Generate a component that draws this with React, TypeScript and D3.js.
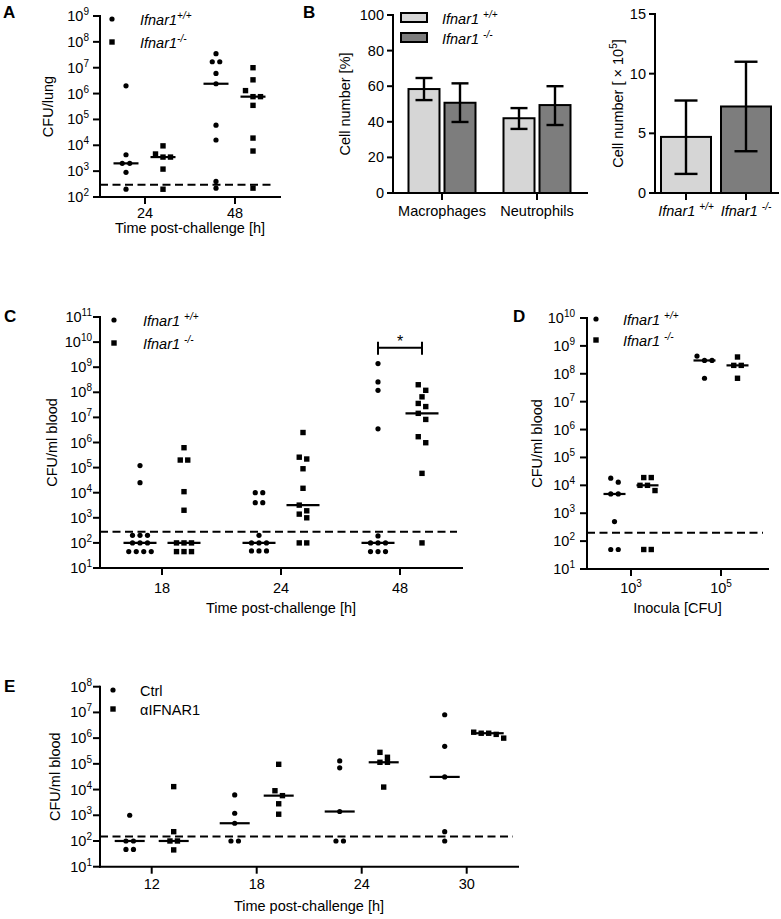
import React from "react";
import * as d3 from "d3";

// ---------- DATA ----------
// Panel A: CFU/lung
const aTimes = ["24", "48"];
const aWT = [
  [2e6, 4.3e3, 2e3, 2e3, 9e2, 2e2],
  [3.5e7, 1.7e7, 1.7e7, 6e6, 2.4e6, 6e4, 1.6e4, 4e2, 2.2e2],
];
const aKO = [
  [9.5e3, 4.6e3, 3.5e3, 3.5e3, 1.2e3, 2e2],
  [1e7, 3.4e6, 1.3e6, 7.6e5, 7.6e5, 3.5e5, 1.9e4, 6e3, 2.2e2],
];
const aLimit = 300;

// Panel B: cell composition
const bCells = ["Macrophages", "Neutrophils"];
const bWTMean = [58.4, 42];
const bWTLow = [52.2, 36];
const bWTHigh = [64.6, 47.7];
const bKOMean = [50.7, 49.4];
const bKOLow = [39.9, 38.2];
const bKOHigh = [61.6, 60];
const bGenotypes = ["+/+", "-/-"];
const bTotalMean = [4.7, 7.25];
const bTotalLow = [1.6, 3.5];
const bTotalHigh = [7.75, 11];

// Panel C: CFU/ml blood over time
const cTimes = ["18", "24", "48"];
const cWT = [
  [1.2e5, 2.5e4, 200, 200, 200, 100, 100, 100, 45, 45, 45, 45],
  [1e4, 1e4, 4e3, 4e3, 200, 100, 100, 100, 48, 48, 48],
  [1.4e9, 2.6e8, 1.2e8, 3.5e6, 190, 100, 100, 100, 45, 45, 45],
];
const cKO = [
  [6.2e5, 2e5, 2e5, 1.1e4, 2e3, 100, 100, 100, 45, 45, 45],
  [2.5e6, 2.6e5, 2.2e5, 9e4, 1.5e4, 3.2e3, 1.9e3, 1.4e3, 1e3, 100, 100],
  [2e8, 1.2e8, 6.6e7, 3.6e7, 2.7e7, 1.45e7, 8.3e6, 1.7e6, 9.8e5, 5.9e4, 100],
];
const cLimit = 280;
const cSigValue = 6e9;

// Panel D: inocula
const dInocula = ["3", "5"];
const dWT = [
  [1.8e4, 1.3e4, 4.9e3, 4.9e3, 500, 50, 50],
  [4.3e8, 3e8, 3e8, 6.9e7],
];
const dKO = [
  [1.9e4, 1.9e4, 1e4, 1e4, 6.5e3, 50, 50],
  [4e8, 2e8, 2e8, 6.9e7],
];
const dLimit = 200;

// Panel E: Ctrl vs anti-IFNAR1
const eTimes = ["12", "18", "24", "30"];
const eCtrl = [
  [1e3, 100, 100, 47, 47],
  [6.2e3, 1.2e3, 490, 100, 100],
  [1.3e5, 7e4, 1.4e3, 100, 100],
  [8.1e6, 4.8e5, 3.1e4, 230, 100],
];
const eAnti = [
  [1.3e4, 230, 100, 100, 45],
  [9.6e4, 9e3, 5.8e3, 2.8e3, 1.1e3],
  [2.8e5, 1.8e5, 1.15e5, 1.15e5, 1.25e4],
  [1.7e6, 1.55e6, 1.55e6, 1.4e6, 1e6],
];
const eLimit = 150;

// ---------- STYLE ----------
const FONT = "'Liberation Sans', Arial, Helvetica, sans-serif";
const LIGHT = "#d6d6d6";
const DARK = "#7d7d7d";
const FS = 14.5;
const SUP = 10;

function swarm(values: number[], y: (v: number) => number, cx: number, spacing = 7.5, thr = 6.5) {
  const pts = values.map((v) => ({ v, y: y(v) })).sort((a, b) => a.y - b.y || b.v - a.v);
  const out: { x: number; y: number }[] = [];
  let i = 0;
  while (i < pts.length) {
    const start = pts[i].y;
    const row: { v: number; y: number }[] = [];
    while (i < pts.length && pts[i].y - start <= thr) {
      row.push(pts[i]);
      i++;
    }
    row.forEach((p, k) => out.push({ x: cx + (k - (row.length - 1) / 2) * spacing, y: p.y }));
  }
  return out;
}

function Marker({ shape, x, y }: { shape: string; x: number; y: number }) {
  if (shape === "circle") return <circle cx={x} cy={y} r={2.6} fill="#000" />;
  return <rect x={x - 2.7} y={y - 2.7} width={5.4} height={5.4} fill="#000" />;
}

function Geno({ sup, space }: { sup: string; space?: boolean }) {
  return (
    <>
      {"Ifnar1" + (space ? " " : "")}
      <tspan dy={-6} fontSize={SUP}>
        {sup}
      </tspan>
    </>
  );
}

type LogCfg = {
  cats: string[];
  tickRange: [number, number];
  x0: number;
  x1: number;
  expMin: number;
  expMax: number;
  yBot: number;
  yTop: number;
  series: { values: number[][]; shape: string; offset: number }[];
  limit: number;
  medHalf: number;
  labelGap: number;
  tickLabelY: number;
  tickLabel: (c: string) => React.ReactNode;
  xTitle: string;
  xTitleY: number;
  yTitle: string;
  yTitleX: number;
  legend: { shape: string; x: number; y: number; textX: number; label: React.ReactNode; italic: boolean }[];
};

function LogPanel(cfg: LogCfg) {
  const y = d3.scaleLog().domain([10 ** cfg.expMin, 10 ** cfg.expMax]).range([cfg.yBot, cfg.yTop]);
  const x = d3.scalePoint().domain(cfg.cats).range(cfg.tickRange);
  const exps = d3.range(cfg.expMin, cfg.expMax + 1);
  return (
    <g>
      {/* axes */}
      <line x1={cfg.x0} x2={cfg.x0} y1={cfg.yTop} y2={cfg.yBot} stroke="#000" strokeWidth={2} strokeLinecap="square" />
      <line x1={cfg.x0} x2={cfg.x1} y1={cfg.yBot} y2={cfg.yBot} stroke="#000" strokeWidth={2} strokeLinecap="square" />
      {exps.map((e) => (
        <g key={e}>
          <line x1={cfg.x0 - 7} x2={cfg.x0} y1={y(10 ** e)} y2={y(10 ** e)} stroke="#000" strokeWidth={2} />
          <text x={cfg.x0 - cfg.labelGap} y={y(10 ** e) + 5} textAnchor="end" fontSize={FS}>
            10
            <tspan dy={-6} fontSize={SUP}>
              {e}
            </tspan>
          </text>
        </g>
      ))}
      {cfg.cats.map((c) => (
        <g key={c}>
          <line x1={x(c)} x2={x(c)} y1={cfg.yBot} y2={cfg.yBot + 7} stroke="#000" strokeWidth={2} />
          <text x={x(c)} y={cfg.tickLabelY} textAnchor="middle" fontSize={FS}>
            {cfg.tickLabel(c)}
          </text>
        </g>
      ))}
      {/* detection limit */}
      <line
        x1={cfg.x0}
        x2={cfg.x1 - 5}
        y1={y(cfg.limit)}
        y2={y(cfg.limit)}
        stroke="#000"
        strokeWidth={2}
        strokeDasharray="8 4.5"
      />
      {/* points and medians */}
      {cfg.series.map((s, si) =>
        cfg.cats.map((c, ci) => {
          const cx = (x(c) as number) + s.offset;
          const vals = s.values[ci];
          const med = d3.median(vals) as number;
          return (
            <g key={si + "-" + ci}>
              {swarm(vals, y, cx).map((p, k) => (
                <Marker key={k} shape={s.shape} x={p.x} y={p.y} />
              ))}
              <line x1={cx - cfg.medHalf} x2={cx + cfg.medHalf} y1={y(med)} y2={y(med)} stroke="#000" strokeWidth={2.2} />
            </g>
          );
        })
      )}
      {/* titles */}
      <text x={(cfg.x0 + cfg.x1) / 2} y={cfg.xTitleY} textAnchor="middle" fontSize={FS}>
        {cfg.xTitle}
      </text>
      <text
        transform={`translate(${cfg.yTitleX},${(cfg.yTop + cfg.yBot) / 2}) rotate(-90)`}
        textAnchor="middle"
        fontSize={FS}
      >
        {cfg.yTitle}
      </text>
      {/* legend */}
      {cfg.legend.map((l, i) => (
        <g key={i}>
          <Marker shape={l.shape} x={l.x} y={l.y} />
          <text x={l.textX} y={l.y + 6} fontSize={FS} fontStyle={l.italic ? "italic" : "normal"}>
            {l.label}
          </text>
        </g>
      ))}
    </g>
  );
}

function ErrBar({ x, lo, hi, cap }: { x: number; lo: number; hi: number; cap: number }) {
  return (
    <g stroke="#000" strokeWidth={2.4}>
      <line x1={x} x2={x} y1={lo} y2={hi} />
      <line x1={x - cap / 2} x2={x + cap / 2} y1={lo} y2={lo} />
      <line x1={x - cap / 2} x2={x + cap / 2} y1={hi} y2={hi} />
    </g>
  );
}

function PanelB() {
  // left: percentages
  const x0 = 393,
    x1 = 587;
  const y = d3.scaleLinear().domain([0, 100]).range([193, 15]);
  const x = d3.scalePoint().domain(bCells).range([442, 537]);
  const bw = 31,
    gap = 5;
  // right: totals
  const rx0 = 655,
    rx1 = 778;
  const ry = d3.scaleLinear().domain([0, 15]).range([193, 14]);
  const rx = d3.scalePoint().domain(bGenotypes).range([686, 746]);
  const rbw = 50;
  return (
    <g>
      <line x1={x0} x2={x0} y1={y(100)} y2={y(0)} stroke="#000" strokeWidth={2} strokeLinecap="square" />
      {y.ticks(5).map((t) => (
        <g key={t}>
          <line x1={x0 - 6} x2={x0} y1={y(t)} y2={y(t)} stroke="#000" strokeWidth={2} />
          <text x={x0 - 9} y={y(t) + 5} textAnchor="end" fontSize={FS}>
            {t}
          </text>
        </g>
      ))}
      {bCells.map((c, i) => {
        const cx = x(c) as number;
        const lx = cx - gap / 2 - bw;
        const dx = cx + gap / 2;
        return (
          <g key={c}>
            <rect x={lx} y={y(bWTMean[i])} width={bw} height={y(0) - y(bWTMean[i])} fill={LIGHT} stroke="#000" strokeWidth={2} />
            <rect x={dx} y={y(bKOMean[i])} width={bw} height={y(0) - y(bKOMean[i])} fill={DARK} stroke="#000" strokeWidth={2} />
            <ErrBar x={lx + bw / 2} lo={y(bWTLow[i])} hi={y(bWTHigh[i])} cap={17} />
            <ErrBar x={dx + bw / 2} lo={y(bKOLow[i])} hi={y(bKOHigh[i])} cap={17} />
            <line x1={cx} x2={cx} y1={y(0)} y2={y(0) + 7} stroke="#000" strokeWidth={2} />
            <text x={cx} y={216} textAnchor="middle" fontSize={FS}>
              {c}
            </text>
          </g>
        );
      })}
      <line x1={x0} x2={x1} y1={y(0)} y2={y(0)} stroke="#000" strokeWidth={2} strokeLinecap="square" />
      <text transform={`translate(350,${(y(0) + y(100)) / 2}) rotate(-90)`} textAnchor="middle" fontSize={FS}>
        Cell number [%]
      </text>
      {/* legend */}
      <rect x={401} y={13} width={26} height={9} fill={LIGHT} stroke="#000" strokeWidth={2} />
      <rect x={401} y={33} width={26} height={9} fill={DARK} stroke="#000" strokeWidth={2} />
      <text x={442} y={24} fontSize={FS} fontStyle="italic">
        <Geno sup="+/+" space />
      </text>
      <text x={442} y={44} fontSize={FS} fontStyle="italic">
        <Geno sup="-/-" space />
      </text>

      {/* right panel */}
      <line x1={rx0} x2={rx0} y1={ry(15)} y2={ry(0)} stroke="#000" strokeWidth={2} strokeLinecap="square" />
      {[0, 5, 10, 15].map((t) => (
        <g key={t}>
          <line x1={rx0 - 6} x2={rx0} y1={ry(t)} y2={ry(t)} stroke="#000" strokeWidth={2} />
          <text x={rx0 - 9} y={ry(t) + 5} textAnchor="end" fontSize={FS}>
            {t}
          </text>
        </g>
      ))}
      {bGenotypes.map((g, i) => {
        const cx = rx(g) as number;
        return (
          <g key={g}>
            <rect
              x={cx - rbw / 2}
              y={ry(bTotalMean[i])}
              width={rbw}
              height={ry(0) - ry(bTotalMean[i])}
              fill={i === 0 ? LIGHT : DARK}
              stroke="#000"
              strokeWidth={2}
            />
            <ErrBar x={cx} lo={ry(bTotalLow[i])} hi={ry(bTotalHigh[i])} cap={23} />
            <line x1={cx} x2={cx} y1={ry(0)} y2={ry(0) + 7} stroke="#000" strokeWidth={2} />
            <text x={cx} y={216} textAnchor="middle" fontSize={FS} fontStyle="italic">
              <Geno sup={g} space />
            </text>
          </g>
        );
      })}
      <line x1={rx0} x2={rx1} y1={ry(0)} y2={ry(0)} stroke="#000" strokeWidth={2} strokeLinecap="square" />
      <text transform={`translate(623,${(ry(0) + ry(15)) / 2}) rotate(-90)`} textAnchor="middle" fontSize={FS}>
        {"Cell number [ × 10"}
        <tspan dy={-6} fontSize={SUP}>
          5
        </tspan>
        <tspan dy={6}>]</tspan>
      </text>
    </g>
  );
}

export default function App() {
  const wtLegend = (x: number, y: number, tx: number, gap: number, space: boolean) => [
    { shape: "circle", x, y, textX: tx, label: <Geno sup="+/+" space={space} />, italic: true },
    { shape: "square", x, y: y + gap, textX: tx, label: <Geno sup="-/-" space={space} />, italic: true },
  ];
  const cYScale = d3.scaleLog().domain([10, 1e11]).range([568, 317]);
  const cX = d3.scalePoint().domain(cTimes).range([162, 400]);
  const sigY = cYScale(cSigValue);
  const sx1 = (cX("48") as number) - 22;
  const sx2 = (cX("48") as number) + 22;
  return (
    <svg
      width={781}
      height={919}
      style={{ position: "absolute", left: 0, top: 0, display: "block", background: "#fff" }}
      fontFamily={FONT}
    >
      <rect width={781} height={919} fill="#fff" />
      {/* panel letters */}
      <g fontSize={17} fontWeight="bold">
        <text x={3} y={18}>A</text>
        <text x={303} y={18}>B</text>
        <text x={4} y={322}>C</text>
        <text x={513} y={322}>D</text>
        <text x={4} y={692}>E</text>
      </g>

      <LogPanel
        cats={aTimes}
        tickRange={[145, 235]}
        x0={100}
        x1={280}
        expMin={2}
        expMax={9}
        yBot={197}
        yTop={16}
        series={[
          { values: aWT, shape: "circle", offset: -19 },
          { values: aKO, shape: "square", offset: 18 },
        ]}
        limit={aLimit}
        medHalf={12.5}
        labelGap={11}
        tickLabelY={218}
        tickLabel={(c) => c}
        xTitle="Time post-challenge [h]"
        xTitleY={233}
        yTitle="CFU/lung"
        yTitleX={53}
        legend={wtLegend(112, 19, 140, 23, false)}
      />

      <PanelB />

      <LogPanel
        cats={cTimes}
        tickRange={[162, 400]}
        x0={100}
        x1={462}
        expMin={1}
        expMax={11}
        yBot={568}
        yTop={317}
        series={[
          { values: cWT, shape: "circle", offset: -22 },
          { values: cKO, shape: "square", offset: 22 },
        ]}
        limit={cLimit}
        medHalf={16.5}
        labelGap={8}
        tickLabelY={593}
        tickLabel={(c) => c}
        xTitle="Time post-challenge [h]"
        xTitleY={613}
        yTitle="CFU/ml blood"
        yTitleX={57}
        legend={wtLegend(114, 320, 143, 23, true)}
      />
      {/* significance bracket */}
      <g stroke="#000" strokeWidth={2}>
        <line x1={sx1} x2={sx2} y1={sigY} y2={sigY} />
        <line x1={sx1} x2={sx1} y1={sigY - 6} y2={sigY + 7} />
        <line x1={sx2} x2={sx2} y1={sigY - 6} y2={sigY + 7} />
      </g>
      <text x={(sx1 + sx2) / 2} y={sigY - 1} textAnchor="middle" fontSize={16}>
        *
      </text>

      <LogPanel
        cats={dInocula}
        tickRange={[631, 721]}
        x0={587}
        x1={768}
        expMin={1}
        expMax={10}
        yBot={569}
        yTop={318}
        series={[
          { values: dWT, shape: "circle", offset: -16.5 },
          { values: dKO, shape: "square", offset: 16.5 },
        ]}
        limit={dLimit}
        medHalf={11}
        labelGap={12}
        tickLabelY={593}
        tickLabel={(c) => (
          <>
            10
            <tspan dy={-6} fontSize={SUP}>
              {c}
            </tspan>
          </>
        )}
        xTitle="Inocula [CFU]"
        xTitleY={613}
        yTitle="CFU/ml blood"
        yTitleX={542}
        legend={wtLegend(596, 319, 623, 21, true)}
      />

      <LogPanel
        cats={eTimes}
        tickRange={[151.7, 466.7]}
        x0={100}
        x1={518}
        expMin={1}
        expMax={8}
        yBot={866.7}
        yTop={686.7}
        series={[
          { values: eCtrl, shape: "circle", offset: -22 },
          { values: eAnti, shape: "square", offset: 22 },
        ]}
        limit={eLimit}
        medHalf={15}
        labelGap={8}
        tickLabelY={889}
        tickLabel={(c) => c}
        xTitle="Time post-challenge [h]"
        xTitleY={911}
        yTitle="CFU/ml blood"
        yTitleX={60}
        legend={[
          { shape: "circle", x: 113, y: 690, textX: 140, label: "Ctrl", italic: false },
          { shape: "square", x: 113, y: 709, textX: 140, label: "αIFNAR1", italic: false },
        ]}
      />
    </svg>
  );
}
